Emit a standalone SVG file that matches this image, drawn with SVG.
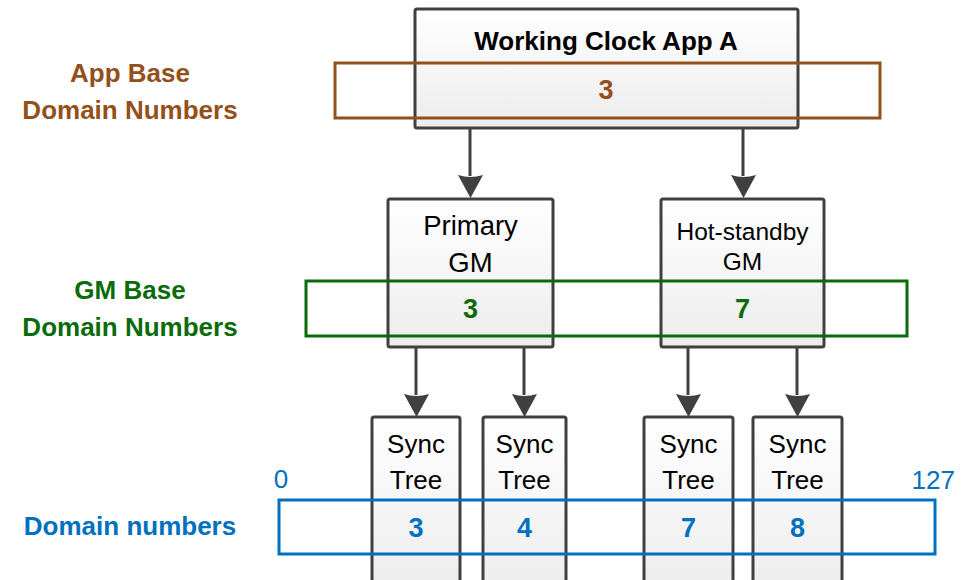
<svg xmlns="http://www.w3.org/2000/svg" width="967" height="580" viewBox="0 0 967 580">
<defs>
  <linearGradient id="boxfill" x1="0" y1="0" x2="0" y2="1">
    <stop offset="0" stop-color="#ffffff"/>
    <stop offset="1" stop-color="#ececec"/>
  </linearGradient>
  <style>
    .box{fill:url(#boxfill);stroke:#404040;stroke-width:3}
    .t{font-family:"Liberation Sans",Arial,sans-serif;text-anchor:middle;fill:#000}
    .b{font-weight:bold}
    .conn{stroke:#404040;stroke-width:3;fill:none}
    .head{fill:#404040}
    .brown{fill:#94501a}
    .green{fill:#0b6b0b}
    .blue{fill:#0070c0}
    .band{fill:none;stroke-width:3}
  </style>
</defs>

<g id="connectors">
  <path class="conn" d="M470,128 L470,176"/>
  <path class="conn" d="M743,128 L743,176"/>
  <path class="conn" d="M416,347 L416,395"/>
  <path class="conn" d="M524,347 L524,395"/>
  <path class="conn" d="M688,347 L688,395"/>
  <path class="conn" d="M797,347 L797,395"/>
  <path class="head" d="M458,175 L470.5,198 L483,175 Q470.5,179 458,175 Z"/>
  <path class="head" d="M731,175 L743.5,198 L756,175 Q743.5,179 731,175 Z"/>
  <path class="head" d="M404,394 L416.5,417 L429,394 Q416.5,398 404,394 Z"/>
  <path class="head" d="M512,394 L524.5,417 L537,394 Q524.5,398 512,394 Z"/>
  <path class="head" d="M676,394 L688.5,417 L701,394 Q688.5,398 676,394 Z"/>
  <path class="head" d="M785,394 L797.5,417 L810,394 Q797.5,398 785,394 Z"/>
</g>

<g id="app">
  <rect class="box" x="415" y="9" width="383" height="119" rx="2"/>
  <text class="t b" x="606" y="50" font-size="26">Working Clock App A</text>
</g>

<g id="primary-gm">
  <rect class="box" x="388" y="199" width="165" height="148" rx="2"/>
  <text class="t" x="470.5" y="235" font-size="27.5">Primary</text>
  <text class="t" x="470.5" y="272" font-size="27.5">GM</text>
</g>

<g id="hot-standby-gm">
  <rect class="box" x="661" y="199" width="163" height="148" rx="2"/>
  <text class="t" x="742.5" y="240" font-size="24.5">Hot-standby</text>
  <text class="t" x="742.5" y="270" font-size="24.5">GM</text>
</g>

<g id="sync-tree-3">
  <rect class="box" x="372" y="417" width="88" height="180" rx="2"/>
  <text class="t" x="416" y="453" font-size="26">Sync</text>
  <text class="t" x="416" y="489" font-size="26">Tree</text>
</g>
<g id="sync-tree-4">
  <rect class="box" x="483" y="417" width="83" height="180" rx="2"/>
  <text class="t" x="524.5" y="453" font-size="26">Sync</text>
  <text class="t" x="524.5" y="489" font-size="26">Tree</text>
</g>
<g id="sync-tree-7">
  <rect class="box" x="644" y="417" width="89" height="180" rx="2"/>
  <text class="t" x="688.5" y="453" font-size="26">Sync</text>
  <text class="t" x="688.5" y="489" font-size="26">Tree</text>
</g>
<g id="sync-tree-8">
  <rect class="box" x="753" y="417" width="89" height="180" rx="2"/>
  <text class="t" x="797.5" y="453" font-size="26">Sync</text>
  <text class="t" x="797.5" y="489" font-size="26">Tree</text>
</g>

<g id="app-base-band">
  <rect class="band" x="335" y="63" width="545" height="55" stroke="#94501a"/>
  <text class="t b brown" x="606" y="99" font-size="27">3</text>
  <text class="t b brown" x="130" y="82" font-size="26">App Base</text>
  <text class="t b brown" x="130" y="119" font-size="26">Domain Numbers</text>
</g>

<g id="gm-base-band">
  <rect class="band" x="306" y="281" width="601" height="55" stroke="#0b6b0b"/>
  <text class="t b green" x="470.5" y="318" font-size="27">3</text>
  <text class="t b green" x="742.5" y="318" font-size="27">7</text>
  <text class="t b green" x="130" y="299" font-size="26">GM Base</text>
  <text class="t b green" x="130" y="336" font-size="26">Domain Numbers</text>
</g>

<g id="domain-band">
  <rect class="band" x="279" y="500" width="656" height="54" stroke="#0070c0"/>
  <text class="t b blue" x="416" y="537" font-size="27">3</text>
  <text class="t b blue" x="524.5" y="537" font-size="27">4</text>
  <text class="t b blue" x="688.5" y="537" font-size="27">7</text>
  <text class="t b blue" x="797.5" y="537" font-size="27">8</text>
  <text class="t b blue" x="130" y="535" font-size="26">Domain numbers</text>
  <text class="t blue" x="281" y="488" font-size="26">0</text>
  <text class="t blue" x="955" y="489" font-size="26" style="text-anchor:end">127</text>
</g>
</svg>
